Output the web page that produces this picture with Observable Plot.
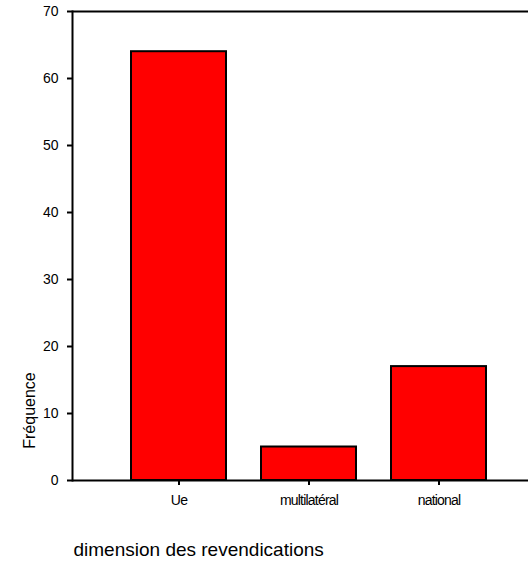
<!DOCTYPE html>
<html>
<head>
<meta charset="utf-8">
<script src="https://cdn.jsdelivr.net/npm/d3@7"></script>
<script src="https://cdn.jsdelivr.net/npm/@observablehq/plot@0.6"></script>
<style>
  html, body { margin: 0; padding: 0; background: #fff; }
  svg { display: block; }
  g[aria-label="x-axis tick label"] text { letter-spacing: -0.8px; }
</style>
</head>
<body>
<div id="chart"></div>
<script>
const categories = ["Ue", "multilatéral", "national"];
const frequencies = [64, 5, 17];
const yTicks = [0, 10, 20, 30, 40, 50, 60, 70];
const xTitle = "dimension des revendications";
const yTitle = "Fréquence";

const data = categories.map((c, i) => ({category: c, value: frequencies[i]}));

const chart = Plot.plot({
  width: 528,
  height: 564,
  marginTop: 11,
  marginBottom: 84,
  marginLeft: 72,
  marginRight: 0,
  style: {fontFamily: "'Liberation Sans', Arial, sans-serif", fontSize: "14px", background: "#fff", color: "#000"},
  x: {domain: categories, range: [113, 503], paddingInner: 0.27, paddingOuter: 0.135},
  y: {domain: [0, 70]},
  marks: [
    Plot.barY(data, {x: "category", y: "value", fill: "#ff0000", stroke: "#000", strokeWidth: 2}),
    Plot.axisY({ticks: yTicks, tickSize: 5, tickPadding: 9, label: null, fontSize: 14, strokeWidth: 2}),
    Plot.axisX({tickSize: 5, tickPadding: 10, label: null, fontSize: 14, strokeWidth: 2}),
    Plot.ruleY([0, 70], {stroke: "#000", strokeWidth: 2}),
    Plot.frame({anchor: "left", stroke: "#000", strokeWidth: 2}),
    Plot.text([xTitle], {frameAnchor: "bottom-left", dx: 1, dy: 75, textAnchor: "start", fontSize: 19}),
    Plot.text([yTitle], {frameAnchor: "bottom-left", dx: -38, dy: -70, rotate: -90, textAnchor: "middle", fontSize: 16})
  ]
});
document.getElementById("chart").appendChild(chart);
</script>
</body>
</html>
